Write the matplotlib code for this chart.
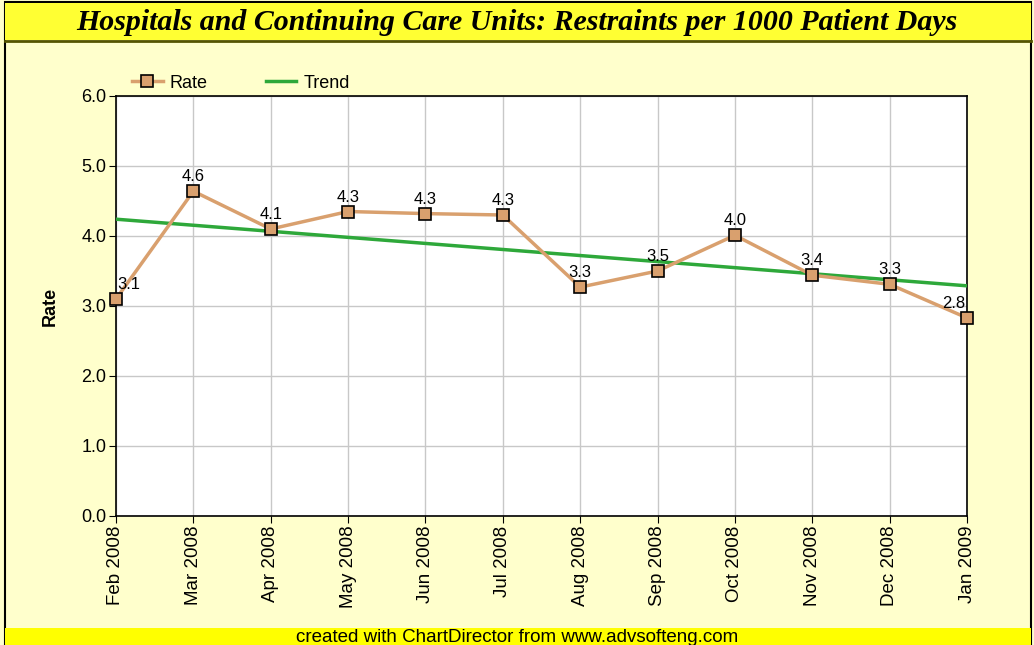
import numpy as np
import matplotlib
matplotlib.use("Agg")
import matplotlib.pyplot as plt
from matplotlib.patches import Rectangle
from matplotlib.lines import Line2D

months = ["Feb 2008", "Mar 2008", "Apr 2008", "May 2008", "Jun 2008", "Jul 2008",
          "Aug 2008", "Sep 2008", "Oct 2008", "Nov 2008", "Dec 2008", "Jan 2009"]
rate = [3.10, 4.64, 4.10, 4.35, 4.32, 4.30, 3.27, 3.50, 4.01, 3.44, 3.31, 2.83]
yticks = [0.0, 1.0, 2.0, 3.0, 4.0, 5.0, 6.0]

W, H = 1034, 645
fig = plt.figure(figsize=(W / 100, H / 100), dpi=100)
fig.patch.set_facecolor("#FFFFCC")

sans = ["Liberation Sans", "DejaVu Sans"]

# outer border
fig.add_artist(Rectangle((5 / W, 0), (W - 8) / W, 1 - 2 / H, transform=fig.transFigure,
                         fill=False, edgecolor="black", linewidth=1.5, zorder=0))
# title bar
fig.add_artist(Rectangle((5 / W, 1 - 40 / H), (W - 8) / W, 37 / H, transform=fig.transFigure,
                         facecolor="#FFFF33", edgecolor="none", zorder=1))
fig.add_artist(Line2D([5 / W, (W - 3) / W], [1 - 41 / H, 1 - 41 / H], transform=fig.transFigure,
                      color="#555500", linewidth=2, zorder=2))
fig.text(0.5, 1 - 23 / H, "Hospitals and Continuing Care Units: Restraints per 1000 Patient Days",
         ha="center", va="center", fontsize=21.5, fontweight="bold", fontstyle="italic",
         family=["Liberation Serif", "DejaVu Serif"], zorder=3)
# footer bar
fig.add_artist(Rectangle((5 / W, 0), (W - 8) / W, 17 / H, transform=fig.transFigure,
                         facecolor="#FFFF00", edgecolor="none", zorder=1))
fig.text(0.5, 8 / H, "created with ChartDirector from www.advsofteng.com",
         ha="center", va="center", fontsize=13.5, family=sans, zorder=3)

left, right, top, bottom = 116, 967, 96, 516
ax = fig.add_axes([left / W, 1 - bottom / H, (right - left) / W, (bottom - top) / H])
ax.set_facecolor("white")

x = np.arange(len(months))
coef = np.polyfit(x, rate, 1)
trend = np.polyval(coef, x)

ax.plot(x, trend, color="#2EA83A", linewidth=2.5, zorder=3, label="Trend")
ax.plot(x, rate, color="#D9A06E", linewidth=2.5, marker="s", markersize=9,
        markerfacecolor="#D9A06E", markeredgecolor="black", markeredgewidth=1.2,
        zorder=4, label="Rate", clip_on=False)

n = len(x)
for i, (xi, v) in enumerate(zip(x, rate)):
    if i == 0:
        ha, dx = "left", 1
    elif i == n - 1:
        ha, dx = "right", -1
    else:
        ha, dx = "center", 0
    ax.annotate(f"{v:.1f}", (xi, v), xytext=(dx, 5), textcoords="offset points",
                ha=ha, va="bottom", fontsize=12, family=sans, zorder=5)

ax.set_xlim(0, n - 1)
ax.set_ylim(0, 6)
ax.set_yticks(yticks)
ax.set_yticklabels([f"{t:.1f}" for t in yticks], fontsize=13, family=sans)
ax.set_xticks(x)
ax.set_xticklabels(months, rotation=90, fontsize=13.5, family=sans)
ax.grid(True, color="#C8C8C8", linewidth=1)
ax.set_axisbelow(True)
for s in ax.spines.values():
    s.set_color("black")
    s.set_linewidth(1.2)
ax.tick_params(direction="out", length=5, color="black", pad=2)
ax.set_ylabel("Rate", fontsize=13, fontweight="bold", family=sans)
ax.yaxis.set_label_coords((59 - left) / (right - left), 0.5)

handles = [Line2D([], [], color="#D9A06E", linewidth=2.5, marker="s", markersize=9,
                  markerfacecolor="#D9A06E", markeredgecolor="black", markeredgewidth=1.2),
           Line2D([], [], color="#2EA83A", linewidth=2.5)]
fig.legend(handles, ["Rate", "Trend"], loc="center left",
           bbox_to_anchor=(132 / W, 1 - 83 / H), ncol=2, frameon=False,
           prop={"family": sans, "size": 13}, handlelength=1.7, columnspacing=3.2,
           handletextpad=0.4, borderaxespad=0, borderpad=0)

fig.savefig("out.png", dpi=100, facecolor=fig.get_facecolor())
